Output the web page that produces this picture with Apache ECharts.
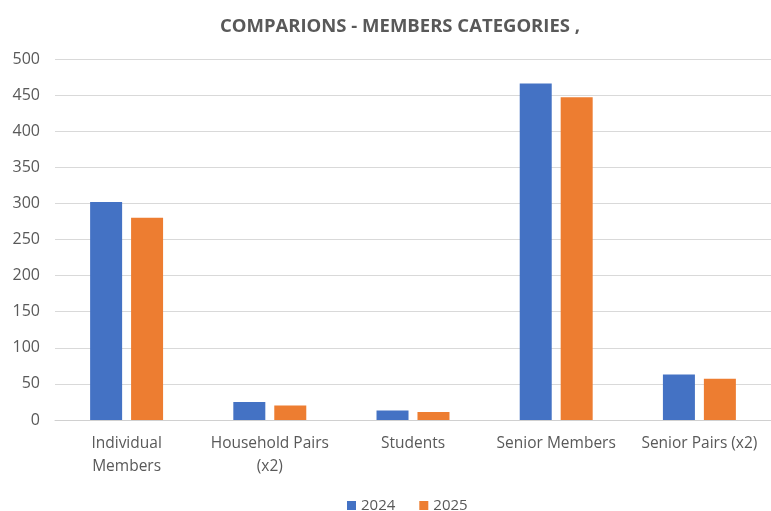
<!DOCTYPE html>
<html>
<head>
<meta charset="utf-8">
<script src="https://cdn.jsdelivr.net/npm/echarts@6/dist/echarts.min.js"></script>
<style>
  html, body { margin: 0; padding: 0; background: #fff; }
  #root { width: 771px; height: 511px; }
</style>
</head>
<body>
<div id="root"></div>
<script>
// chart values
var categories = ['Individual\nMembers', 'Household Pairs\n(x2)', 'Students', 'Senior Members', 'Senior Pairs (x2)']
var seriesNames = ['2024', '2025']
var values2024 = [302, 25, 13, 466, 63]
var values2025 = [280, 20, 11, 447, 57]
var yTicks = [0, 50, 100, 150, 200, 250, 300, 350, 400, 450, 500]

var chart = echarts.init(document.getElementById('root'))

var textColor = '#595959'
var font = 'Open Sans, Liberation Sans, sans-serif'

var option = {
  animation: false,
  backgroundColor: '#fff',
  title: {
    text: 'COMPARIONS - MEMBERS CATEGORIES ,',
    left: 395,
    top: 12,
    textAlign: 'center',
    textStyle: { color: textColor, fontSize: 18.5, fontWeight: 'bold', fontFamily: font }
  },
  legend: {
    data: seriesNames,
    top: 493,
    left: 342,
    itemWidth: 9,
    itemHeight: 9,
    itemGap: 24,
    icon: 'rect',
    textStyle: { color: textColor, fontSize: 15, fontFamily: font }
  },
  grid: {
    left: 55,
    right: 0,
    top: 59,
    bottom: 91
  },
  xAxis: {
    type: 'category',
    data: categories,
    axisTick: { show: false },
    axisLine: { lineStyle: { color: '#d0d0d0' } },
    axisLabel: { color: textColor, fontSize: 15.5, fontFamily: font, margin: 12, lineHeight: 23, interval: 0 }
  },
  yAxis: {
    type: 'value',
    min: yTicks[0],
    max: yTicks[yTicks.length - 1],
    interval: 50,
    axisLine: { show: false },
    axisTick: { show: false },
    splitLine: { lineStyle: { color: '#d9d9d9' } },
    axisLabel: { color: textColor, fontSize: 16, fontFamily: font, margin: 15 }
  },
  series: [
    {
      name: seriesNames[0],
      type: 'bar',
      data: values2024,
      barWidth: 32,
      barGap: '28%',
      itemStyle: { color: '#4472C4' }
    },
    {
      name: seriesNames[1],
      type: 'bar',
      data: values2025,
      barWidth: 32,
      itemStyle: { color: '#ED7D31' }
    }
  ]
}

chart.setOption(option)
</script>
</body>
</html>
